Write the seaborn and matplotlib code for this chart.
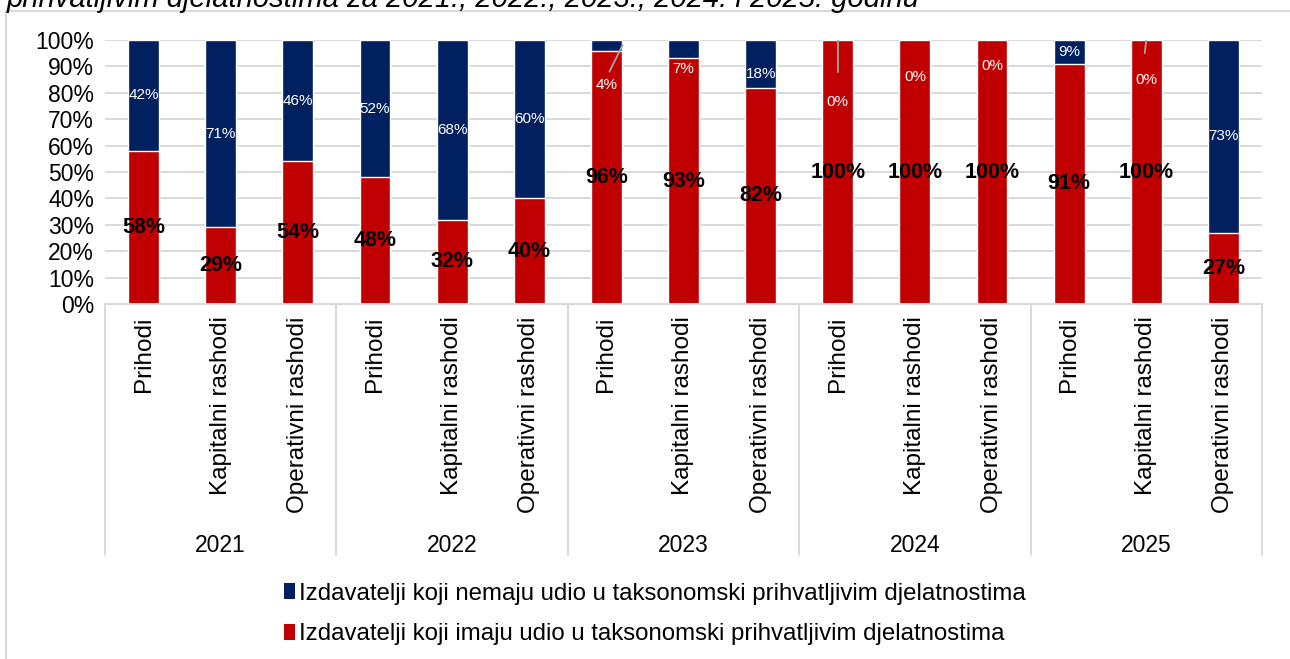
import pandas as pd
import matplotlib
matplotlib.use("Agg")
import matplotlib.pyplot as plt
import matplotlib.transforms as mtransforms
from matplotlib.patches import Patch, Rectangle
import seaborn as sns

# data
years = ["2021", "2022", "2023", "2024", "2025"]
categories = ["Prihodi", "Kapitalni rashodi", "Operativni rashodi"]
imaju = [58, 29, 54, 48, 32, 40, 96, 93, 82, 100, 100, 100, 91, 100, 27]
nemaju = [42, 71, 46, 52, 68, 60, 4, 7, 18, 0, 0, 0, 9, 0, 73]

label_nemaju = "Izdavatelji koji nemaju udio u taksonomski prihvatljivim djelatnostima"
label_imaju = "Izdavatelji koji imaju udio u taksonomski prihvatljivim djelatnostima"
title = "prihvatljivim djelatnostima za 2021., 2022., 2023., 2024. i 2025. godinu"

BLUE = "#002060"
RED = "#C00000"
GRID = "#D9D9D9"

sns.set_theme(style="white")
plt.rcParams["font.family"] = ["Liberation Sans", "DejaVu Sans"]
plt.rcParams["text.color"] = "black"
plt.rcParams["xtick.color"] = "black"
plt.rcParams["ytick.color"] = "black"

keys = [f"{y} {c}" for y in years for c in categories]
df = pd.DataFrame({"key": keys, "imaju": imaju, "nemaju": nemaju})
df["total"] = df["imaju"] + df["nemaju"]

fig = plt.figure(figsize=(12.9, 6.59), dpi=100)
ax = fig.add_axes([105 / 1290, 355 / 659, 1157 / 1290, 264 / 659])

sns.barplot(data=df, x="key", y="total", order=keys, color=BLUE, saturation=1,
            width=0.4, errorbar=None, ax=ax, zorder=2)
sns.barplot(data=df, x="key", y="imaju", order=keys, color=RED, saturation=1,
            width=0.4, errorbar=None, ax=ax, zorder=2)

ax.set_xlim(-0.5, len(keys) - 0.5)
ax.set_ylim(0, 100)
ax.set_yticks(range(0, 101, 10))
ax.set_yticklabels([f"{v}%" for v in range(0, 101, 10)], fontsize=16.5)
ax.yaxis.grid(True, color=GRID, lw=1.4, zorder=0)
ax.set_axisbelow(True)
ax.set_xticks(range(len(keys)))
ax.set_xticklabels(categories * len(years), rotation=90, va="top", fontsize=17.5)
ax.tick_params(axis="both", length=0)
ax.tick_params(axis="x", pad=9)
ax.tick_params(axis="y", pad=8)
ax.set_xlabel("")
ax.set_ylabel("")
for s in ["left", "right", "top"]:
    ax.spines[s].set_visible(False)
ax.spines["bottom"].set_color(GRID)
ax.spines["bottom"].set_linewidth(1.4)

# group separators and year labels
trans = mtransforms.blended_transform_factory(ax.transData, ax.transAxes)
for g in range(len(years) + 1):
    xg = g * 3 - 0.5
    ax.plot([xg, xg], [0, -0.951], transform=trans, color=GRID, lw=1.4, clip_on=False)
for g, y in enumerate(years):
    ax.text(g * 3 + 1, -0.913, y, transform=trans, ha="center", va="center", fontsize=16.5)

# value labels
blue_pos = {6: 83, 7: 89, 8: 87, 9: 76.5, 10: 86, 11: 90, 13: 85}
for i, (r, b) in enumerate(zip(imaju, nemaju)):
    ax.text(i, r / 2, f"{r}%", ha="center", va="center", fontsize=15.5,
            fontweight="bold", color="black", zorder=5)
    yb = blue_pos.get(i, r + b / 2)
    ax.text(i, yb, f"{b}%", ha="center", va="center", fontsize=11,
            color="white", zorder=5)

# leader lines
for (x0, y0), (x1, y1) in [((6.21, 98.1), (6.04, 88)), ((9, 100), (9, 88)),
                           ((13.0, 100), (12.98, 95))]:
    ax.plot([x0, x1], [y0, y1], color="#A6A6A6", lw=1.3, zorder=4)

# legend
handles = [Patch(facecolor=BLUE, edgecolor="none"), Patch(facecolor=RED, edgecolor="none")]
fig.legend(handles, [label_nemaju, label_imaju], loc="center",
           bbox_to_anchor=(655 / 1290, 1 - 614 / 659), frameon=False, fontsize=17.3,
           handlelength=0.45, handleheight=0.65, handletextpad=0.15, labelspacing=0.78)

# chart border and clipped title
fig.patches.append(Rectangle((6 / 1290, -0.1), 1.2, 1.1 - 11 / 659, transform=fig.transFigure,
                             fill=False, edgecolor=GRID, lw=1.5))
fig.text(7 / 1290, 1 - 7 / 659, title, ha="left", va="baseline", fontsize=21, style="italic")

fig.savefig("out.png", dpi=100)
